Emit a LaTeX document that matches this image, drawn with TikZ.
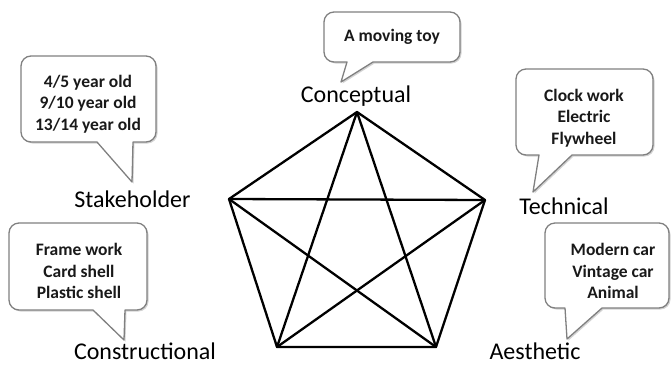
\documentclass[tikz,border=0pt]{standalone}
\usepackage{fontspec}
\setmainfont{Carlito}
\usetikzlibrary{shadows}
\begin{document}
\begin{tikzpicture}[x=1pt,y=-1pt,
  callout/.style={draw=black!50, line width=1.3pt, fill=white, line join=round,
    drop shadow={opacity=0.35, shadow xshift=1.5pt, shadow yshift=-1.5pt}},
  calltext/.style={align=center, font=\fontsize{17.5}{21.5}\selectfont\bfseries, inner sep=0pt, text=black!90},
  dimlabel/.style={font=\fontsize{24}{28}\selectfont, inner sep=0pt, anchor=base},
  edge/.style={line width=2.3pt, line join=round, line cap=round}]
\useasboundingbox (0,0) rectangle (671,365);
% callout shapes
\newcommand{\callshape}[8]{%
  \draw[callout] (#6,#4) [rounded corners=10pt] -- (#3,#4) -- (#3,#2) -- (#1,#2) -- (#1,#4) [sharp corners] -- (#5,#4) -- (#7,#8) -- cycle;}
\callshape{21}{56}{156}{142}{97}{133}{132}{182}
\callshape{324}{12}{460}{62}{347}{373}{341}{82}
\callshape{516}{69}{653}{155}{539}{572}{533}{192}
\callshape{9}{223}{147}{310}{93}{125}{124}{340}
\callshape{545}{223}{669}{308}{565}{602}{567}{339}
% callout texts
\node[calltext] (tstake) at (88,104) {4/5 year old\\9/10 year old\\13/14 year old};
\node[calltext] (tconc) at (392,37) {A moving toy};
\node[calltext] (ttech) at (584,118) {Clock work\\Electric\\Flywheel};
\node[calltext] (tcons) at (79,271) {Frame work\\Card shell\\Plastic shell};
\node[calltext] (taest) at (613,271) {Modern car\\Vintage car\\Animal};
% labels
\node[dimlabel] (lstake) at (132.5,207) {Stakeholder};
\node[dimlabel] (lconc) at (356,102) {Conceptual};
\node[dimlabel] (ltech) at (564,214) {Technical};
\node[dimlabel] (lcons) at (145,359) {Constructional};
\node[dimlabel] (laest) at (535,359) {Aesthetic};
% pentagon
\coordinate (T) at (357,112);
\coordinate (L) at (229,199);
\coordinate (R) at (485,200);
\coordinate (BL) at (277,347);
\coordinate (BR) at (436,347);
\draw[edge] (T) -- (R) -- (BR) -- (BL) -- (L) -- cycle;
\draw[edge] (T) -- (BL);
\draw[edge] (T) -- (BR);
\draw[edge] (L) -- (R);
\draw[edge] (L) -- (BR);
\draw[edge] (R) -- (BL);
\end{tikzpicture}
\end{document}
